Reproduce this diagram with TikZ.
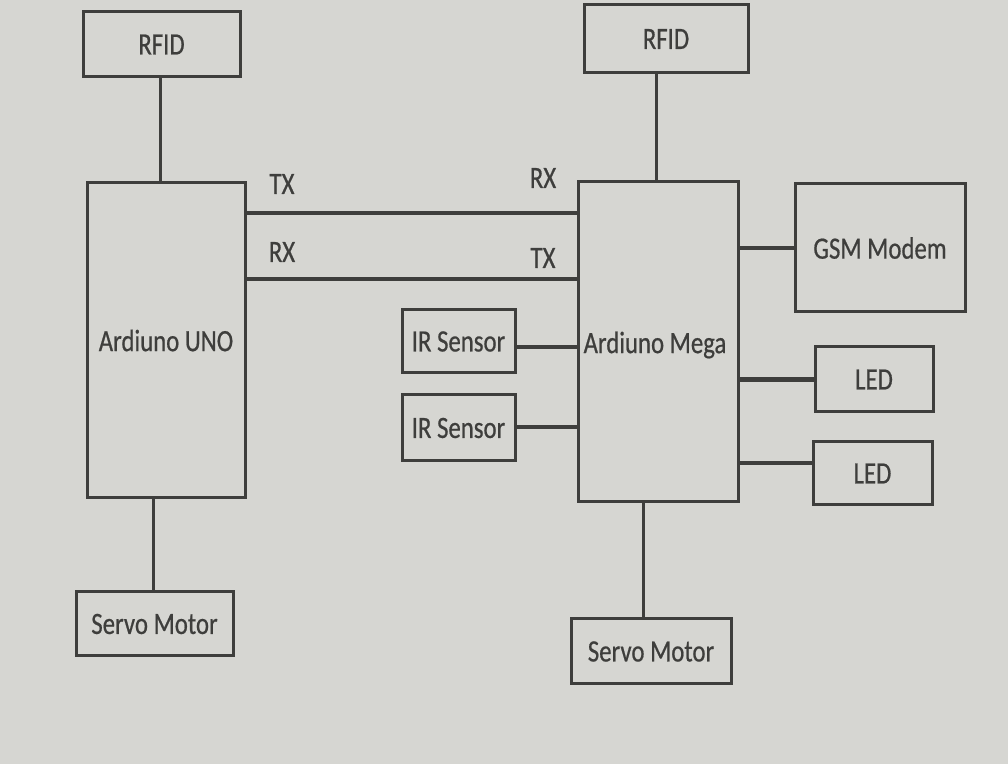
\documentclass[tikz,border=0pt]{standalone}
\usepackage{fontspec}
\setmainfont{Carlito}[FakeStretch=0.8,FakeBold=0.6]
\definecolor{paper}{RGB}{214,214,210}
\definecolor{ink}{RGB}{62,62,60}
\begin{document}
\begin{tikzpicture}[x=0.5pt,y=-0.5pt,
  box/.style={draw=ink,line width=1.5pt,rectangle,inner sep=0pt,text=ink,
    font=\fontsize{15.5}{18}\selectfont},
  thin/.style={draw=ink,line width=1.5pt},
  thick/.style={draw=ink,line width=2.3pt},
  lbl/.style={text=ink,font=\fontsize{15.5}{18}\selectfont,inner sep=0pt}]
\fill[paper] (0,0) rectangle (1008,764);
\useasboundingbox (0,0) rectangle (1008,764);
% left side
\node[box,minimum width=78.5pt,minimum height=32.5pt] (rfidL) at (161.5,44.5) {RFID};
\node[box,minimum width=79pt,minimum height=157.5pt] (uno) at (166,340.5) {Ardiuno UNO};
\node[box,minimum width=78.5pt,minimum height=32pt] (servoL) at (154.5,624) {Servo Motor};
% right side
\node[box,minimum width=82pt,minimum height=34pt] (rfidR) at (666,39) {RFID};
\node[box,minimum width=80pt,minimum height=160pt] (mega) at (658,342) {};
\node[lbl] (megatxt) at (655,345) {Ardiuno Mega};
\node[box,minimum width=85pt,minimum height=64pt] (gsm) at (880,248) {GSM Modem};
\node[box,minimum width=59pt,minimum height=32.5pt] (led1) at (874,379.5) {LED};
\node[box,minimum width=59.5pt,minimum height=31.5pt] (led2) at (872.5,473.5) {LED};
\node[box,minimum width=80pt,minimum height=32.5pt] (servoR) at (651,651.5) {Servo Motor};
\node[box,minimum width=56.5pt,minimum height=31.5pt] (ir1) at (458.5,341.5) {IR Sensor};
\node[box,minimum width=56.5pt,minimum height=33pt] (ir2) at (458.5,428) {IR Sensor};
% connectors
\draw[thin] (rfidL.south -| 160,0) -- (uno.north -| 160,0);
\draw[thin] (servoL.north -| 153,0) -- (uno.south -| 153,0);
\draw[thin] (rfidR.south -| 656,0) -- (mega.north -| 656,0);
\draw[thin] (servoR.north -| 643,0) -- (mega.south -| 643,0);
\draw[thick] (uno.east |- 0,213) -- (mega.west |- 0,213);
\draw[thick] (uno.east |- 0,279) -- (mega.west |- 0,279);
\draw[thick] (ir1.east |- 0,347) -- (mega.west |- 0,347);
\draw[thick] (ir2.east |- 0,427) -- (mega.west |- 0,427);
\draw[thick] (gsm.west) -- (gsm.west -| mega.east);
\draw[thick] (led1.west) -- (led1.west -| mega.east);
\draw[thick] (led2.west |- 0,463) -- (mega.east |- 0,463);
% labels
\node[lbl] (tx1) at (282,184) {TX};
\node[lbl] (rx1) at (282,252) {RX};
\node[lbl] (rx2) at (543,178) {RX};
\node[lbl] (tx2) at (543,258) {TX};
\end{tikzpicture}
\end{document}
